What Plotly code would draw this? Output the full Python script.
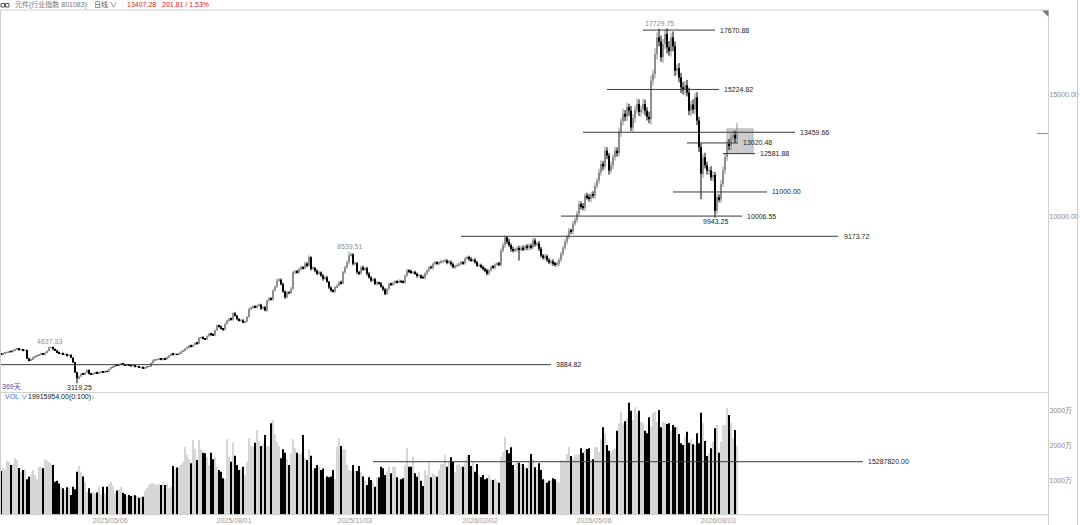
import plotly.graph_objects as go

# ---------------- data ----------------
closes = [
    4300, 4340, 4380, 4400, 4440, 4410, 4470, 4520, 4540, 4490,
    4510, 4470, 4480, 4140, 4060, 4110, 4190, 4230, 4260, 4300,
    4340, 4310, 4380, 4450, 4600, 4610, 4520, 4470, 4400, 4330,
    4350, 4300, 4320, 4260, 4280, 4170, 3980, 3570, 3320, 3400,
    3510, 3480, 3560, 3670, 3510, 3490, 3540, 3580, 3540, 3570,
    3600, 3580, 3620, 3600, 3710, 3760, 3820, 3880, 3850, 3890,
    3920, 3890, 3860, 3880, 3870, 3830, 3840, 3800, 3810, 3770,
    3780, 3740, 3770, 3790, 3810, 3950, 4060, 4080, 4100, 4120,
    4090, 4130, 4110, 4200, 4260, 4330, 4300, 4320, 4300, 4360,
    4420, 4470, 4540, 4600, 4670, 4630, 4700, 4780, 4750, 4990,
    5010, 4960, 4930, 5060, 5160, 5120, 5100, 5300, 5500, 5460,
    5360, 5330, 5560, 5700, 5780, 5740, 6000, 5900, 5770, 5700,
    5720, 5640, 5660, 5850, 6180, 6230, 6280, 6250, 6320, 6350,
    6200, 6250, 6120, 6530, 6620, 6580, 6940, 7100, 7350, 7380,
    7200, 6900, 6660, 6870, 6840, 7010, 7690, 7720, 7680, 7830,
    7900, 7860, 8050, 7980, 8310, 7830, 7870, 7750, 7630, 7680,
    7560, 7420, 7480, 7300, 7060, 6940, 6900, 7080, 7150, 7280,
    7240, 7690, 7900, 8100, 8380, 8420, 8040, 8060, 7690, 7650,
    7900, 7820, 7860, 7630, 7480, 7350, 7400, 7210, 7260, 7230,
    7100, 6980, 6800, 7000, 7210, 7180, 7250, 7320, 7290, 7330,
    7300, 7280, 7550, 7760, 7720, 7680, 7700, 7630, 7540, 7560,
    7490, 7460, 7640, 7760, 7900, 7870, 8040, 8080, 8050, 8100,
    8140, 8150, 8180, 8100, 8120, 8020, 7900, 7960, 7990, 8040,
    8100, 8060, 8250, 8310, 8240, 8180, 8200, 8100, 7960, 7990,
    7900, 7840, 7760, 7630, 7780, 7920, 7880, 8010, 8040, 8000,
    8590, 8800, 9130, 8950, 8800, 8650, 8590, 8620, 8680, 8650,
    8700, 8650, 8750, 8700, 8790, 8720, 9000, 8850, 8880, 8660,
    8380, 8300, 8350, 8200, 8100, 8150, 8040, 8000, 8040, 8200,
    8450, 8700, 8950, 9150, 9400, 9360, 9690, 9850, 10100, 10500,
    10420, 10350, 10850, 10780, 10720, 10900, 10850, 11250, 11470, 11800,
    12160, 12050, 12700, 12500, 11880, 12100, 12430, 12700, 12600, 13460,
    13900, 14220, 14100, 14490, 14350, 13660, 14050, 14400, 14630, 14300,
    14400, 14630, 14350, 14100, 14000, 15590, 15860, 16690, 17370, 17200,
    16550, 17100, 17510, 16960, 16800, 17370, 17000, 16000, 16100, 15720,
    15310, 15200, 15400, 15100, 14350, 14600, 14400, 14900, 13940, 12840,
    11750, 12430, 12100, 11880, 11900, 11600, 11700, 10230, 10780, 10700,
    11330, 11900, 12430, 12980, 12900, 13250, 13350, 13205.47, 13407.28,
]
first_open = 4330

# estimated upper / lower shadow length of each candle, in per mille of price
wick_up_pm = [
    6, 9, 4, 8, 5, 7, 10, 6, 8, 5,   7, 4, 9, 6, 8, 5, 7, 10, 4, 6,
    8, 5, 7, 6, 9, 1, 6, 8, 5, 7,    5, 8, 6, 4, 7, 9, 5, 6, 8, 10,
    6, 9, 7, 8, 5, 6, 4, 7, 9, 5,    4, 6, 8, 5, 7, 9, 6, 4, 8, 6,
    7, 5, 6, 9, 4, 6, 8, 5, 7, 6,    5, 8, 6, 4, 9, 7, 10, 6, 5, 8,
    7, 6, 9, 5, 8, 6, 4, 9, 7, 6,    8, 5, 7, 10, 6, 9, 5, 7, 6, 8,
    6, 9, 5, 7, 8, 6, 10, 7, 9, 5,   8, 6, 9, 7, 5, 8, 6, 10, 7, 6,
    9, 7, 6, 8, 10, 6, 7, 9, 5, 8,   6, 8, 10, 7, 9, 6, 8, 7, 10, 9,
    7, 9, 6, 8, 5, 10, 7, 9, 8, 6,   8, 6, 9, 7, 10, 5, 7, 6, 8, 9,
    6, 8, 7, 9, 5, 7, 8, 6, 9, 7,    10, 7, 8, 9, 6, 8, 7, 9, 6, 8,
    7, 9, 6, 8, 10, 7, 6, 8, 9, 5,   8, 6, 10, 7, 9, 6, 8, 7, 6, 9,
    7, 8, 6, 9, 7, 10, 6, 8, 7, 9,   6, 9, 7, 8, 6, 9, 7, 10, 8, 6,
    9, 7, 8, 6, 10, 7, 9, 6, 8, 7,   8, 6, 9, 7, 8, 10, 6, 9, 7, 8,
    7, 9, 6, 10, 8, 6, 9, 7, 8, 10,  9, 12, 10, 8, 14, 9, 11, 8, 10, 12,
    9, 11, 8, 12, 10, 9, 13, 10, 8, 11,  10, 8, 12, 9, 11, 8, 10, 9, 12, 10,
    11, 9, 12, 10, 13, 9, 11, 10, 12, 14,  10, 12, 9, 11, 13, 10, 12, 11, 9, 13,
    12, 10, 14, 11, 9, 13, 10, 12, 11, 14,  12, 15, 11, 13, 10, 14, 12, 11, 15, 13,
    11, 14, 12, 10, 15, 13, 11, 14, 12, 10,  14, 12, 10, 13, 15, 11, 14, 12, 10, 13,
    12, 15, 11, 14, 13, 10, 15, 12, 14, 11,  13, 11, 15, 12, 10, 14, 13, 11, 15, 12,
    14, 12, 13, 11, 15, 12, 14, 13, 12,
]
wick_dn_pm = [
    5, 7, 9, 4, 6, 8, 5, 7, 4, 9,    6, 8, 5, 7, 10, 6, 4, 8, 7, 5,
    9, 6, 4, 8, 5, 7, 9, 6, 8, 4,    7, 5, 8, 10, 6, 4, 7, 9, 12, 6,
    8, 6, 5, 7, 9, 4, 8, 6, 5, 7,    6, 4, 7, 9, 5, 8, 6, 7, 4, 8,
    5, 8, 6, 4, 7, 9, 5, 8, 6, 7,    9, 6, 5, 8, 4, 7, 6, 9, 8, 5,
    6, 9, 7, 5, 8, 4, 9, 6, 5, 7,    7, 5, 9, 6, 4, 8, 7, 5, 9, 6,
    9, 7, 6, 8, 5, 10, 6, 8, 7, 9,   6, 10, 8, 5, 9, 7, 8, 6, 10, 7,
    8, 6, 10, 7, 6, 9, 8, 5, 7, 6,   10, 7, 6, 9, 8, 7, 10, 6, 8, 7,
    6, 8, 10, 7, 9, 6, 8, 10, 6, 9,  9, 7, 6, 10, 8, 9, 6, 8, 7, 6,
    8, 10, 7, 6, 9, 8, 6, 10, 7, 8,  7, 6, 9, 8, 10, 6, 9, 7, 8, 10,
    9, 8, 7, 10, 6, 9, 8, 6, 10, 7,  6, 9, 8, 6, 10, 8, 7, 9, 8, 6,
    8, 7, 10, 6, 9, 7, 8, 6, 10, 8,  10, 6, 8, 9, 7, 6, 10, 8, 6, 9,
    7, 9, 6, 10, 8, 9, 6, 8, 10, 7,  9, 8, 7, 6, 10, 8, 9, 7, 6, 8,
    6, 10, 9, 8, 7, 9, 6, 10, 8, 7,  10, 9, 12, 11, 8, 13, 10, 9, 11, 10,
    12, 10, 9, 11, 13, 10, 9, 12, 10, 11,  9, 11, 13, 10, 8, 12, 11, 9, 10, 12,
    10, 12, 9, 13, 11, 10, 12, 9, 11, 10,  13, 10, 12, 9, 11, 13, 10, 12, 9, 11,
    11, 13, 10, 12, 14, 10, 13, 11, 12, 10,  14, 11, 13, 12, 15, 11, 13, 14, 11, 12,
    13, 12, 14, 11, 12, 15, 13, 11, 14, 12,  11, 14, 12, 15, 11, 13, 12, 14, 11, 13,
    15, 12, 14, 11, 13, 15, 12, 14, 13, 15,  12, 14, 11, 13, 15, 12, 14, 11, 13, 12,
    13, 11, 14, 12, 13, 15, 11, 14, 13,
]

# notable extremes (index: value)
wick_highs = {24: 4637.33, 174: 8539.51, 253: 9173.72, 329: 17729.75, 368: 13850}
wick_lows = {38: 3119.25, 259: 8174, 350: 10700, 357: 9943.25}

# volume in 万 (10,000 shares)
volume_wan = [
    1261, 1340, 1300, 1560, 1530, 1434, 1480, 1627, 1578, 1350,
    1242, 1290, 1309, 1021, 1097, 1150, 1290, 1146, 1021, 1380,
    1386, 1338, 1600, 1560, 1531, 1480, 1434, 953, 982, 900,
    809, 760, 713, 790, 761, 569, 809, 732, 1242, 1405,
    1242, 1100, 953, 665, 761, 617, 665, 617, 640, 790,
    597, 809, 617, 809, 900, 953, 838, 617, 700, 732,
    809, 636, 600, 540, 569, 540, 569, 560, 540, 491,
    520, 520, 694, 780, 857, 905, 905, 880, 857, 900,
    857, 953, 857, 900, 761, 800, 1405, 1309, 1360, 1386,
    1450, 1531, 1963, 1723, 1600, 1483, 2156, 1900, 1578, 2156,
    1887, 1790, 1771, 1674, 1434, 1790, 1600, 1674, 1386, 1290,
    1242, 1050, 1021, 2175, 1674, 1531, 2079, 1700, 1434, 1290,
    1309, 1386, 1146, 1531, 2204, 1983, 1963, 2079, 2444, 2127,
    1983, 2050, 2300, 1983, 1983, 2637, 2733, 2319, 2100, 1983,
    1627, 1887, 1790, 1600, 1434, 1771, 2175, 1915, 1790, 1752,
    1771, 2300, 1627, 1578, 1887, 1700, 1290, 1338, 1434, 1405,
    1290, 1330, 1050, 1100, 1078, 1100, 1290, 1021, 1963, 2204,
    1983, 1887, 1887, 1450, 1290, 1261, 1434, 1261, 1261, 1405,
    1242, 1100, 982, 857, 1078, 1001, 950, 809, 1078, 1070,
    1386, 1338, 1146, 1250, 1386, 1194, 1386, 1386, 1078, 1021,
    1021, 1050, 1434, 1915, 1386, 1386, 1674, 1194, 1097, 1242,
    982, 828, 1290, 1146, 1500, 1078, 1194, 1146, 1097, 1300,
    1463, 1463, 1723, 1386, 1531, 1655, 1531, 1242, 1434, 1463,
    1400, 1386, 1483, 1723, 1723, 1405, 1531, 1242, 1463, 1146,
    1078, 1146, 1021, 1050, 1146, 1021, 1001, 1050, 980, 924,
    1674, 1819, 2252, 1867, 1771, 1944, 1434, 1290, 1531, 1500,
    1463, 1463, 1386, 1338, 1531, 1752, 1598, 1366, 1290, 1483,
    1290, 1021, 1000, 924, 982, 1001, 1050, 1021, 960, 924,
    1578, 1559, 1578, 1750, 1963, 1694, 1627, 1723, 1740, 1752,
    1915, 1790, 1867, 1896, 1915, 1598, 1598, 1963, 1944, 1819,
    2175, 2521, 2348, 2011, 1848, 1819, 1870, 1915, 2425, 2637,
    2974, 2637, 2700, 2781, 3233, 3002, 2733, 3098, 2925, 3002,
    2685, 2637, 2425, 2348, 2810, 2540, 2925, 2974, 2685, 3021,
    2521, 2685, 2637, 2618, 2637, 2425, 2589, 2521, 2540, 2329,
    2059, 2011, 2252, 2396, 2079, 2175, 2030, 2011, 2348, 2059,
    2944, 2637, 2127, 1694, 1771, 1915, 2108, 2492, 2589, 1790,
    2108, 2589, 2589, 3069, 2877, 2656, 2204, 2444, 1991.5954,
]

tick_labels = ["2025/05/06", "2025/08/01", "2025/11/03", "2026/02/02", "2026/05/06", "2026/08/03"]
tick_index = [54.5, 116.5, 177, 239.5, 296.5, 358.5]

level_values = [17670.88, 15224.82, 13459.66, 13020.48, 12581.88, 11000.00, 10006.55, 9173.72, 3884.82]
level_labels = ["17670.88", "15224.82", "13459.66", "13020.48", "12581.88", "11000.00", "10006.55", "9173.72", "3884.82"]
vol_avg_wan = 1528.782
vol_avg_label = "15287820.00"

extreme_labels = [("17729.75", 17729.75), ("8539.51", 8539.51), ("4637.33", 4637.33),
                  ("3119.25", 3119.25), ("9943.25", 9943.25)]

# ---------------- derived OHLC ----------------
n = len(closes)
idx = list(range(n))
opens = [first_open] + closes[:-1]
highs = [wick_highs.get(i, max(opens[i], closes[i]) * (1 + wick_up_pm[i] / 1000.0)) for i in idx]
lows = [wick_lows.get(i, min(opens[i], closes[i]) * (1 - wick_dn_pm[i] / 1000.0)) for i in idx]
up = [closes[i] >= opens[i] for i in idx]

UP_C = "#8e8e8e"
DN_C = "#000000"
VOL_UP = "#d6d6d6"

body_base = [min(opens[i], closes[i]) for i in idx]
body_h = [max(abs(closes[i] - opens[i]), 12) for i in idx]
body_col = [UP_C if u else DN_C for u in up]
body_w = [0.55 if u else 0.8 for u in up]
vol_colors = [VOL_UP if u else DN_C for u in up]

# ---------------- layout helpers ----------------
W, H = 1080, 525
def pxx(x):
    return x / W
def pyy(y):
    return 1 - y / H
def ix(px):  # pixel x -> candle index coordinate
    return (px - 1) / 2.0

FONT = "Liberation Sans, Arial, Noto Sans CJK SC, sans-serif"

fig = go.Figure()
for flag, col in ((True, UP_C), (False, DN_C)):
    wx, wy = [], []
    for i in idx:
        if up[i] == flag:
            wx += [i, i, None]
            wy += [lows[i], highs[i], None]
    fig.add_trace(go.Scatter(x=wx, y=wy, mode="lines", line=dict(color=col, width=1),
                             xaxis="x", yaxis="y", showlegend=False, hoverinfo="skip"))
fig.add_trace(go.Bar(x=idx, y=body_h, base=body_base, width=body_w,
                     marker=dict(color=body_col, line=dict(width=0)),
                     xaxis="x", yaxis="y", showlegend=False, hoverinfo="skip"))
fig.add_trace(go.Bar(x=idx, y=volume_wan, width=0.8, marker=dict(color=vol_colors, line=dict(width=0)),
                     xaxis="x", yaxis="y2", showlegend=False, hoverinfo="skip"))

shapes = []
annotations = []

# level lines: (start px, end px, label px)
level_extent = [(643, 715, 718), (607, 719, 722), (583, 795, 798), (687, 738, 741),
                (723, 755, 758), (673, 767, 770), (561, 742, 745), (461, 838, 842), (0, 551, 554)]
for val, lab, (x0, x1, xl) in zip(level_values, level_labels, level_extent):
    shapes.append(dict(type="line", xref="x", yref="y", x0=ix(x0), x1=ix(x1), y0=val, y1=val,
                       line=dict(color="#3a3a3a", width=1)))
    annotations.append(dict(xref="x", yref="y", x=ix(xl), y=val, text=lab, showarrow=False,
                            xanchor="left", yanchor="middle",
                            font=dict(family=FONT, size=7, color="#222222")))

# shaded box
shapes.append(dict(type="rect", xref="x", yref="y", x0=ix(727), x1=ix(753), y0=level_values[4], y1=13600,
                   fillcolor="#c4c4c4", opacity=0.85, line=dict(color="#a8a8a8", width=1), layer="below"))

# volume average line
shapes.append(dict(type="line", xref="x", yref="y2", x0=ix(373), x1=ix(863), y0=vol_avg_wan, y1=vol_avg_wan,
                   line=dict(color="#3a3a3a", width=1)))
annotations.append(dict(xref="x", yref="y2", x=ix(866), y=vol_avg_wan, text=vol_avg_label, showarrow=False,
                        xanchor="left", yanchor="middle", font=dict(family=FONT, size=7, color="#222222")))

# extreme labels
ext_pos = [(659, 24, "#909090"), (349, 246.5, "#909090"), (49, 341, "#909090"),
           (79, 387, "#222222"), (715, 222, "#222222")]
for (lab, val), (xp, yp, col) in zip(extreme_labels, ext_pos):
    annotations.append(dict(xref="paper", yref="paper", x=pxx(xp), y=pyy(yp), text=lab, showarrow=False,
                            xanchor="center", yanchor="middle", font=dict(family=FONT, size=7, color=col)))

# current price marker at the right edge
shapes.append(dict(type="line", xref="paper", yref="y", x0=pxx(1037), x1=pxx(1048), y0=closes[-1], y1=closes[-1],
                   line=dict(color="#8a8a8a", width=1)))

# borders
border = "#cfcfcf"
for y in (10, 392.5, 514.7):
    shapes.append(dict(type="line", xref="paper", yref="paper", x0=0, x1=pxx(1048.5), y0=pyy(y), y1=pyy(y),
                       line=dict(color=border, width=1)))
shapes.append(dict(type="line", xref="paper", yref="paper", x0=pxx(1048.5), x1=pxx(1048.5), y0=0, y1=pyy(10),
                   line=dict(color=border, width=1)))
shapes.append(dict(type="line", xref="paper", yref="paper", x0=pxx(1077.5), x1=pxx(1077.5), y0=0, y1=1,
                   line=dict(color=border, width=1)))
shapes.append(dict(type="line", xref="paper", yref="paper", x0=pxx(0.5), x1=pxx(0.5), y0=pyy(514.7), y1=pyy(10),
                   line=dict(color=border, width=1)))
# corner triangle
shapes.append(dict(type="path", xref="paper", yref="paper",
                   path=f"M {pxx(1042)} {pyy(10.5)} L {pxx(1048.5)} {pyy(10.5)} L {pxx(1048.5)} {pyy(17)} Z",
                   fillcolor="#7a7a7a", line=dict(width=0)))
# header icon
for x0 in (1, 5.5):
    shapes.append(dict(type="rect", xref="paper", yref="paper", x0=pxx(x0), x1=pxx(x0 + 3.5),
                       y0=pyy(7), y1=pyy(3.5), line=dict(color="#555555", width=1)))

# header texts
hdr = [
    (13, "元件(行业指数 801083)", "#777777"),
    (92, "日线 ∨", "#555555"),
    (125, "13407.28", "#e02020"),
    (160, "201.81 / 1.53%", "#e02020"),
]
for xp, txt, col in hdr:
    annotations.append(dict(xref="paper", yref="paper", x=pxx(xp), y=pyy(5), text=txt, showarrow=False,
                            xanchor="left", yanchor="middle", font=dict(family=FONT, size=7, color=col)))

annotations.append(dict(xref="paper", yref="paper", x=pxx(0), y=pyy(386.5), text="369天", showarrow=False,
                        xanchor="left", yanchor="middle", font=dict(family=FONT, size=7, color="#4b4ba8")))
annotations.append(dict(xref="paper", yref="paper", x=pxx(3), y=pyy(396.5), text="VOL ∨", showarrow=False,
                        xanchor="left", yanchor="middle", font=dict(family=FONT, size=7, color="#3f6fd0")))
annotations.append(dict(xref="paper", yref="paper", x=pxx(26), y=pyy(396.5),
                        text="19915954.00(0:100)<span style='color:#2a9a2a'>↓</span>", showarrow=False,
                        xanchor="left", yanchor="middle", font=dict(family=FONT, size=7, color="#111111")))

x_dom_end = 1048.5 / W
fig.update_layout(
    width=W, height=H,
    margin=dict(l=0, r=0, t=0, b=0),
    paper_bgcolor="white", plot_bgcolor="white",
    barmode="overlay",
    showlegend=False,
    hovermode=False,
    xaxis=dict(domain=[0, x_dom_end], range=[-0.5, 523.75], anchor="y2",
               showgrid=False, zeroline=False, showline=False,
               tickmode="array", tickvals=tick_index, ticktext=tick_labels, ticks="",
               tickfont=dict(family=FONT, size=7, color="#9a9a9a"), automargin=False),
    yaxis=dict(domain=[pyy(392.5), pyy(10)], range=[2738, 18498], side="right", anchor="x",
               showgrid=False, zeroline=False, showline=False, ticks="",
               tickmode="array", tickvals=[10000, 15000], tickformat=".2f",
               tickfont=dict(family=FONT, size=7, color="#8a8a8a"), automargin=False),
    yaxis2=dict(domain=[pyy(514.7), pyy(393)], range=[0, 3512], side="right", anchor="x",
                showgrid=False, zeroline=False, showline=False, ticks="",
                tickmode="array", tickvals=[1000, 2000, 3000], ticktext=["1000万", "2000万", "3000万"],
                tickfont=dict(family=FONT, size=7, color="#8a8a8a"), automargin=False),
    shapes=shapes,
    annotations=annotations,
)

fig.write_html("out.html", config={"displayModeBar": False},
               post_script="document.body.style.margin='0px';document.body.style.overflow='hidden';")
